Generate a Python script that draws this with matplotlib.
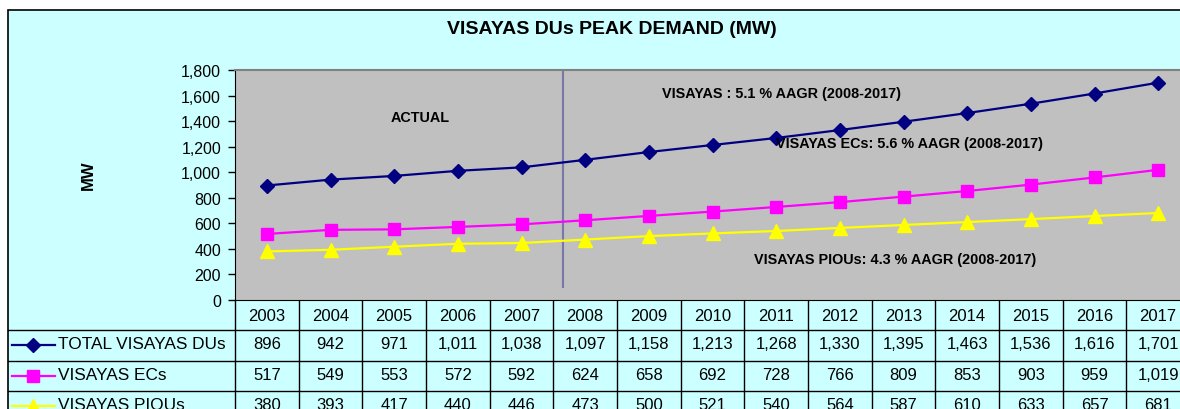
import numpy as np
import matplotlib
matplotlib.use("Agg")
import matplotlib.pyplot as plt
from matplotlib.patches import Rectangle
from matplotlib.ticker import FuncFormatter
from matplotlib.transforms import blended_transform_factory

plt.rcParams['font.family'] = ['Liberation Sans', 'DejaVu Sans']

# data
years = ['2003', '2004', '2005', '2006', '2007', '2008', '2009', '2010',
         '2011', '2012', '2013', '2014', '2015', '2016', '2017']
total_dus = [896, 942, 971, 1011, 1038, 1097, 1158, 1213, 1268, 1330, 1395, 1463, 1536, 1616, 1701]
visayas_ecs = [517, 549, 553, 572, 592, 624, 658, 692, 728, 766, 809, 853, 903, 959, 1019]
visayas_pious = [380, 393, 417, 440, 446, 473, 500, 521, 540, 564, 587, 610, 633, 657, 681]
series_names = ['TOTAL VISAYAS DUs', 'VISAYAS ECs', 'VISAYAS PIOUs']

W, H = 1180, 410
fig = plt.figure(figsize=(W / 100, H / 100), dpi=100)
fig.patch.set_facecolor('white')

def fx(p):
    return p / W

def fy(p):
    return 1 - p / H

# outer chart frame (cyan), runs off the right and bottom edges
frame = fig.add_axes([0, 0, 1, 1], zorder=-5)
frame.set_xlim(0, W)
frame.set_ylim(H, 0)
frame.axis('off')
frame.add_patch(Rectangle((8, 11), 1300, 500, facecolor='#CCFFFF', edgecolor='black', lw=1.2))

fig.text(fx(612), fy(30), 'VISAYAS DUs PEAK DEMAND (MW)', ha='center', va='center',
         fontsize=14, fontweight='bold')
fig.text(fx(88), fy(175), 'MW', ha='center', va='center', rotation=90,
         fontsize=12, fontweight='bold')

# table axes (pixel x, row y)
tab = fig.add_axes([fx(8), fy(422), fx(1190 - 8), (422 - 301) / H])
tab.set_xlim(8, 1190)
tab.set_ylim(4, 0)
tab.axis('off')

# main plot
ax = fig.add_axes([fx(235), fy(301), fx(1190 - 235), (301 - 71) / H])
ax.set_facecolor('#C0C0C0')
x = np.arange(len(years))
styles = [dict(color='#000080', marker='D', ms=7),
          dict(color='#FF00FF', marker='s', ms=8.5),
          dict(color='#FFFF00', marker='^', ms=9.5)]
for vals, st in zip([total_dus, visayas_ecs, visayas_pious], styles):
    ax.plot(x, vals, lw=1.6, clip_on=False, zorder=3, **st)

ax.set_xlim(-0.5, len(years) - 0.5)
ax.set_ylim(0, 1800)
ax.set_yticks(np.arange(0, 1801, 200))
ax.yaxis.set_major_formatter(FuncFormatter(lambda v, p: f'{int(v):,}'))
ax.tick_params(axis='y', direction='out', length=5, width=1, pad=5, labelsize=11.5)
ax.set_xticks([])
ax.spines['right'].set_visible(False)
ax.spines['top'].set_color('#808080')
ax.spines['top'].set_linewidth(1.5)

split_pos = 4.65
ax.plot([split_pos, split_pos], [100, 1800], color='#7878A8', lw=1.5, zorder=2)

ax.text(2.41, 1432, 'ACTUAL', ha='center', va='center', fontsize=10.4, fontweight='bold')
ax.text(8.09, 1620, 'VISAYAS : 5.1 % AAGR (2008-2017)', ha='center', va='center',
        fontsize=10.4, fontweight='bold')
ax.text(10.1, 1229, 'VISAYAS ECs: 5.6 % AAGR (2008-2017)', ha='center', va='center',
        fontsize=10.4, fontweight='bold', zorder=4)
ax.text(9.87, 321, 'VISAYAS PIOUs: 4.3 % AAGR (2008-2017)', ha='center', va='center',
        fontsize=10.4, fontweight='bold')

# data table below the plot
bt = blended_transform_factory(ax.transData, tab.transData)
for i in range(len(years) + 1):
    tab.plot([i - 0.5, i - 0.5], [0, 4], color='black', lw=1, transform=bt, clip_on=False)
for r in [1, 2, 3]:
    tab.plot([8, 1190], [r, r], color='black', lw=1, clip_on=False)
for i, yr in enumerate(years):
    tab.text(i, 0.5, yr, ha='center', va='center', fontsize=12, transform=bt)
for r, vals in enumerate([total_dus, visayas_ecs, visayas_pious], start=1):
    for i, v in enumerate(vals):
        tab.text(i, r + 0.45, f'{v:,}', ha='center', va='center', fontsize=12, transform=bt)
    st = styles[r - 1]
    tab.plot([12, 55], [r + 0.5, r + 0.5], color=st['color'], lw=1.6, clip_on=False)
    tab.plot([33], [r + 0.5], color=st['color'], marker=st['marker'], ms=st['ms'], clip_on=False)
    tab.text(58, r + 0.45, series_names[r - 1], ha='left', va='center', fontsize=12.4)

fig.savefig('out.png', dpi=100)
